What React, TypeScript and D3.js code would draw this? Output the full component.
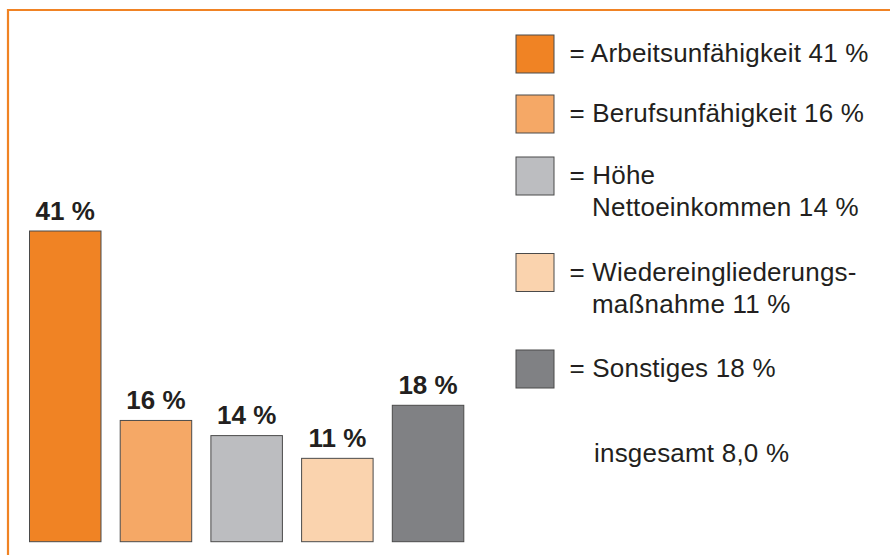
import React from "react";
import * as d3 from "d3";

const categories = ["Arbeitsunfähigkeit", "Berufsunfähigkeit", "Höhe Nettoeinkommen", "Wiedereingliederungsmaßnahme", "Sonstiges"];
const values = [41, 16, 14, 11, 18];
const barLabels = ["41 %", "16 %", "14 %", "11 %", "18 %"];
const colors = ["#F08324", "#F5A866", "#BCBDC0", "#FAD3AE", "#808184"];
const legendLines = [
  ["= Arbeitsunfähigkeit 41 %"],
  ["= Berufsunfähigkeit 16 %"],
  ["= Höhe", "Nettoeinkommen 14 %"],
  ["= Wiedereingliederungs-", "maßnahme 11 %"],
  ["= Sonstiges 18 %"],
];
const legendTops = [35, 95, 157, 253.5, 350];
const totalText = "insgesamt 8,0 %";

const W = 890;
const H = 555;
const FONT = "'Liberation Sans', Arial, Helvetica, sans-serif";
const TEXT = "#231F20";

export default function App() {
  const x = d3
    .scaleBand<string>()
    .domain(categories)
    .range([29.5, 463.8])
    .paddingInner(0.2117)
    .paddingOuter(0);
  const y = d3.scaleLinear().domain([0, 41]).range([541.7, 231]);

  return (
    <div style={{ position: "absolute", left: 0, top: 0 }}>
      <svg width={W} height={H} style={{ display: "block", background: "#fff" }}>
        <line x1={8} y1={10} x2={W} y2={10} stroke="#F08324" strokeWidth={2.2} />
        <line x1={8} y1={9} x2={8} y2={H} stroke="#F08324" strokeWidth={2.2} />
        {categories.map((c, i) => (
          <g key={c}>
            <rect
              x={x(c)}
              y={y(values[i])}
              width={x.bandwidth()}
              height={y(0) - y(values[i])}
              fill={colors[i]}
              stroke="#4a4a4a"
              strokeWidth={1}
            />
            <text
              x={(x(c) as number) + x.bandwidth() / 2}
              y={y(values[i]) - 11.5}
              textAnchor="middle"
              fontFamily={FONT}
              fontWeight="bold"
              fontSize={26}
              fill={TEXT}
            >
              {barLabels[i]}
            </text>
          </g>
        ))}
        {categories.map((c, i) => (
          <g key={"lg" + c}>
            <rect
              x={516}
              y={legendTops[i]}
              width={38}
              height={38}
              fill={colors[i]}
              stroke="#4a4a4a"
              strokeWidth={1}
            />
            {legendLines[i].map((t, j) => (
              <text
                key={j}
                x={j === 0 ? 569.5 : 592}
                y={legendTops[i] + 27 + j * 32}
                fontFamily={FONT}
                fontSize={26}
                fill={TEXT}
                letterSpacing={0.2}
              >
                {t}
              </text>
            ))}
          </g>
        ))}
        <text x={594} y={462} fontFamily={FONT} fontSize={26} fill={TEXT} letterSpacing={0.2}>
          {totalText}
        </text>
      </svg>
    </div>
  );
}
